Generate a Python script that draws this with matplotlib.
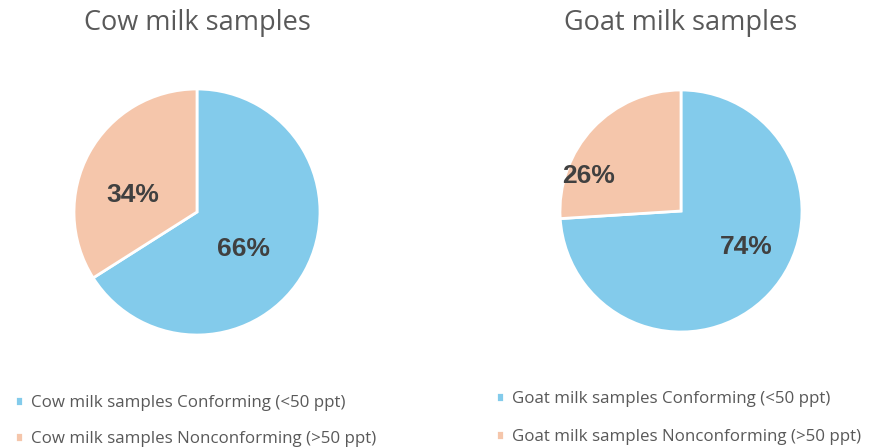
import matplotlib
matplotlib.use("Agg")
import matplotlib.pyplot as plt

titles = ["Cow milk samples", "Goat milk samples"]
categories = ["Conforming (<50 ppt)", "Nonconforming (>50 ppt)"]
cow_values = [66, 34]
goat_values = [74, 26]
colors = ["#83CBEB", "#F5C6AB"]

W, H = 871, 448
fig = plt.figure(figsize=(W / 100, H / 100), dpi=100)
fig.patch.set_facecolor("white")

# (center x px, center y px from top, radius px)
specs = [
    (197, 212, 123, cow_values, titles[0],
     [(0.38, -0.30), (-0.52, 0.14)], (15, 403), 1.2),
    (681, 211, 121, goat_values, titles[1],
     [(0.54, -0.30), (-0.76, 0.29)], (496, 399), 1.3),
]

for cx, cy, r, vals, title, lpos, (lx, ly), sp in specs:
    ax = fig.add_axes([(cx - r) / W, (H - cy - r) / H, 2 * r / W, 2 * r / H])
    wedges, _ = ax.pie(vals, colors=colors, startangle=90, counterclock=False,
                       radius=1, wedgeprops=dict(edgecolor="white", linewidth=2))
    ax.set_xlim(-1, 1)
    ax.set_ylim(-1, 1)
    ax.set_aspect("equal")
    ax.axis("off")
    for v, (px, py) in zip(vals, lpos):
        ax.text(px, py, f"{v}%", ha="center", va="center", fontsize=19,
                fontweight="bold", color="#404040", family="Liberation Sans")
    fig.text(cx / W, 1 - 23 / H, title, ha="center", va="center",
             fontsize=19.5, color="#595959", family="Open Sans")
    labels = [f"{title} {c}" for c in categories]
    fig.legend(wedges, labels, loc="upper left",
               bbox_to_anchor=((lx - 7) / W, 1 - (ly - 15) / H),
               frameon=False, handlelength=0.5, handleheight=0.5,
               handletextpad=0.45, labelspacing=sp, borderaxespad=0,
               prop=dict(family="Open Sans", size=12.2),
               labelcolor="#595959")

fig.savefig("out.png", dpi=100)
